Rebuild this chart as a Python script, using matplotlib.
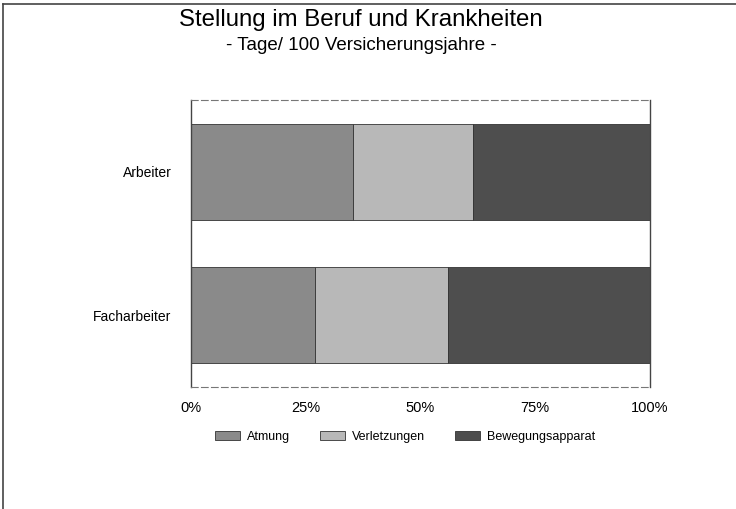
import numpy as np
import matplotlib.pyplot as plt
from matplotlib.lines import Line2D

plt.rcParams['font.family'] = ['Liberation Sans', 'DejaVu Sans']

groups = ["Facharbeiter", "Arbeiter"]
series = ["Atmung", "Verletzungen", "Bewegungsapparat"]
atmung = [27.0, 35.3]
verletzungen = [29.0, 26.1]
bewegung = [44.0, 38.6]
colors = ["#8a8a8a", "#b8b8b8", "#4e4e4e"]
xticks = [0, 25, 50, 75, 100]
xtick_labels = ["0%", "25%", "50%", "75%", "100%"]

fig = plt.figure(figsize=(7.36, 5.09), dpi=100)
ax = fig.add_axes([191 / 736, 1 - 387 / 509, 459 / 736, 287 / 509])

y = np.arange(len(groups))
left = np.zeros(len(groups))
for name, vals, col in zip(series, [atmung, verletzungen, bewegung], colors):
    ax.barh(y, vals, left=left, height=0.67, color=col, edgecolor="#333333",
            linewidth=0.6, label=name)
    left += np.array(vals)

ax.set_xlim(0, 100)
ax.set_ylim(-0.5, 1.5)
ax.set_yticks(y)
ax.set_yticklabels(groups, fontsize=10)
ax.set_xticks(xticks)
ax.set_xticklabels(xtick_labels, fontsize=10.5)
ax.tick_params(length=0)
ax.tick_params(axis="x", pad=10)
ax.tick_params(axis="y", pad=14)
for s in ["left", "right"]:
    ax.spines[s].set_color("#444444")
    ax.spines[s].set_linewidth(1.0)
for s in ["top", "bottom"]:
    ax.spines[s].set_color("#777777")
    ax.spines[s].set_linewidth(0.8)
    ax.spines[s].set_linestyle((0, (6, 3)))

fig.text(361 / 736, 1 - 20 / 509, "Stellung im Beruf und Krankheiten",
         ha="center", va="center", fontsize=17.3)
fig.text(361 / 736, 1 - 45 / 509, "- Tage/ 100 Versicherungsjahre -",
         ha="center", va="center", fontsize=13.5)

fig.legend(loc="center", bbox_to_anchor=(405 / 736, 1 - 437 / 509), ncol=3,
           frameon=False, fontsize=9, handlelength=2.0, handleheight=0.7,
           columnspacing=2.4, handletextpad=0.55)

# outer frame lines (left and top) as in the scan
fig.add_artist(Line2D([3 / 736, 3 / 736], [0, 1 - 4 / 509], transform=fig.transFigure,
                      color="#444444", linewidth=1.2))
fig.add_artist(Line2D([3 / 736, 1], [1 - 4 / 509, 1 - 4 / 509], transform=fig.transFigure,
                      color="#444444", linewidth=1.2))

fig.savefig("out.png", dpi=100)
